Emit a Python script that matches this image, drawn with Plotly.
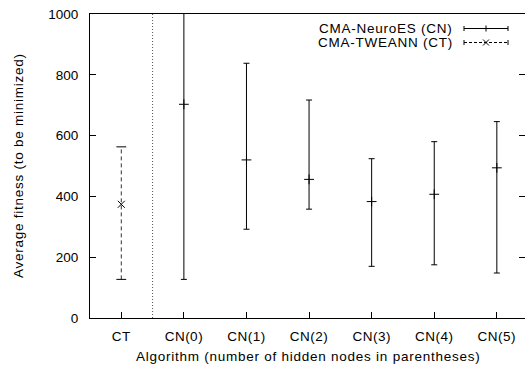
import plotly.graph_objects as go

categories = ["CT", "CN(0)", "CN(1)", "CN(2)", "CN(3)", "CN(4)", "CN(5)"]

ct_mean = [374]
ct_low = [127]
ct_high = [563]

cn_mean = [703, 520, 456, 383, 407, 494]
cn_low = [127, 292, 358, 170, 175, 148]
cn_high = [1300, 838, 717, 524, 580, 646]

y_ticks = [0, 200, 400, 600, 800, 1000]

FONT = "Liberation Sans, Arial, Helvetica, sans-serif"
FS = 13.5


def spaced(t, ls=0.75):
    return f'<span style="letter-spacing:{ls}px">{t}</span>'


fig = go.Figure()

# CN series: solid error bars with '+' marker
fig.add_trace(go.Scatter(
    x=categories[1:], y=cn_mean, mode="markers",
    marker=dict(symbol="cross-thin", size=7, line=dict(color="black", width=1), color="black"),
    error_y=dict(type="data", symmetric=False,
                 array=[h - m for h, m in zip(cn_high, cn_mean)],
                 arrayminus=[m - l for m, l in zip(cn_mean, cn_low)],
                 color="black", thickness=1, width=3),
    showlegend=False, cliponaxis=True,
))

# CT series: dashed stem, caps, 'x' marker
fig.add_trace(go.Scatter(
    x=[categories[0], categories[0]], y=[ct_low[0], ct_high[0]], mode="lines",
    line=dict(color="#333", width=1, dash="4px,3px"), showlegend=False,
))
fig.add_trace(go.Scatter(
    x=[categories[0], categories[0]], y=[ct_low[0], ct_high[0]], mode="markers",
    marker=dict(symbol="line-ew", size=7, line=dict(color="black", width=1)), showlegend=False,
))
fig.add_trace(go.Scatter(
    x=categories[:1], y=ct_mean, mode="markers",
    marker=dict(symbol="x-thin", size=7, line=dict(color="black", width=1), color="black"),
    showlegend=False,
))

# invisible trace for the right-side mirror ticks
fig.add_trace(go.Scatter(x=categories[:1], y=[None], yaxis="y2", showlegend=False, hoverinfo="skip"))

shapes = []
# separator between CT and CN
shapes.append(dict(type="line", xref="x", yref="paper", x0=0.5, x1=0.5, y0=0, y1=1,
                   line=dict(color="#555", width=1, dash="1px,2px")))

# legend samples (pixel-anchored to top right corner of plot)
def seg(x0, x1, y0, y1, dash=None):
    return dict(type="line", xref="paper", yref="paper", xsizemode="pixel", ysizemode="pixel",
                xanchor=1, yanchor=1, x0=x0, x1=x1, y0=y0, y1=y1,
                line=dict(color="black", width=1, dash=dash) if dash else dict(color="black", width=1))

L0, L1 = -61, -17
MID = (L0 + L1) / 2
for yy, dash, mark in [(-14.5, None, "+"), (-28.5, "3px,2px", "x")]:
    shapes.append(seg(L0, L1, yy, yy, dash))
    shapes.append(seg(L0, L0, yy - 2.5, yy + 2.5))
    shapes.append(seg(L1, L1, yy - 2.5, yy + 2.5))
    if mark == "+":
        shapes.append(seg(MID, MID, yy - 3, yy + 3))
    else:
        shapes.append(seg(MID - 3, MID + 3, yy - 3, yy + 3))
        shapes.append(seg(MID - 3, MID + 3, yy + 3, yy - 3))

annotations = [
    dict(text=spaced("CMA-NeuroES (CN)"), xref="paper", yref="paper", x=1, y=1, xanchor="right", yanchor="middle",
         xshift=-70, yshift=-14.5, showarrow=False, font=dict(family=FONT, size=FS, color="black")),
    dict(text=spaced("CMA-TWEANN (CT)"), xref="paper", yref="paper", x=1, y=1, xanchor="right", yanchor="middle",
         xshift=-70, yshift=-28.5, showarrow=False, font=dict(family=FONT, size=FS, color="black")),
    dict(text=spaced("Average fitness (to be minimized)"), xref="paper", yref="paper", x=0, y=0.5,
         xanchor="center", yanchor="middle", xshift=-72, textangle=-90, showarrow=False,
         font=dict(family=FONT, size=FS, color="black")),
    dict(text=spaced("Algorithm (number of hidden nodes in parentheses)"), xref="paper", yref="paper", x=0.5, y=0,
         xanchor="center", yanchor="middle", yshift=-38.5, showarrow=False,
         font=dict(family=FONT, size=FS, color="black")),
]

fig.update_layout(
    width=525, height=367,
    margin=dict(l=90, r=0, t=14, b=49, pad=0),
    paper_bgcolor="white", plot_bgcolor="white",
    font=dict(family=FONT, size=FS, color="black"),
    showlegend=False,
    shapes=shapes, annotations=annotations,
    xaxis=dict(type="category", categoryorder="array", categoryarray=categories,
               tickvals=categories, ticktext=[spaced(c, 0.5) for c in categories],
               range=[-0.5, 6.45], showgrid=False, zeroline=False,
               showline=True, linecolor="black", linewidth=1, mirror=True,
               ticks="inside", ticklen=6, tickcolor="black", ticklabelstandoff=6),
    yaxis=dict(range=[0, 1000], tickvals=y_ticks, showgrid=False, zeroline=False,
               showline=True, linecolor="black", linewidth=1, mirror=False,
               ticks="inside", ticklen=6, tickcolor="black", ticklabelstandoff=8),
    yaxis2=dict(range=[0, 1000], tickvals=y_ticks, overlaying="y", side="right",
                showgrid=False, zeroline=False, showline=False, showticklabels=False,
                ticks="inside", ticklen=6, tickcolor="black"),
)

fig.write_html("out.html", config={"displayModeBar": False},
               post_script="document.body.style.margin='0';document.body.style.overflow='hidden';")
